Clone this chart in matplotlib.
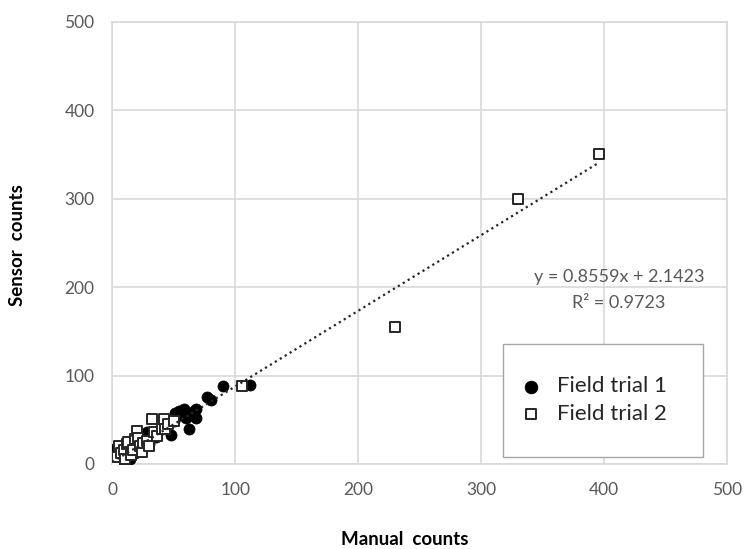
import matplotlib.pyplot as plt
from matplotlib.patches import Rectangle

plt.rcParams['font.family'] = ['Lato', 'DejaVu Sans']

# Field trial 1 (filled circles): manual vs sensor counts
trial1_manual = [0, 1, 2, 3, 5, 6, 8, 10, 12, 14, 16, 18, 22, 25, 28, 30, 35, 40,
                 42, 48, 50, 51, 52, 54, 56, 58, 60, 62, 64, 66, 68, 68, 77, 80, 90, 112]
trial1_sensor = [2, 8, 15, 18, 12, 4, 10, 20, 14, 6, 22, 12, 18, 26, 36, 22, 30, 40,
                 48, 33, 48, 58, 56, 60, 55, 62, 52, 40, 56, 60, 52, 62, 76, 72, 88, 89]

# Field trial 2 (open squares)
trial2_manual = [0, 2, 4, 5, 7, 9, 10, 12, 13, 15, 17, 18, 20, 21, 22, 24, 25, 28,
                 30, 32, 34, 36, 40, 42, 43, 45, 50, 105, 230, 330, 396]
trial2_sensor = [0, 3, 8, 20, 12, 16, 5, 22, 25, 10, 16, 28, 37, 29, 20, 14, 24, 26,
                 20, 51, 36, 32, 40, 51, 39, 45, 48, 88, 155, 300, 351]

# linear trendline reported on the chart
slope = 0.8559
intercept = 2.1423
r_squared = 0.9723

fig = plt.figure(figsize=(7.45, 5.49), dpi=100)
ax = fig.add_axes([0.151, 0.155, 0.825, 0.805])

grid_col = '#d9d9d9'
text_col = '#595959'

ax.scatter(trial1_manual, trial1_sensor, s=64, marker='o', c='black',
           edgecolors='black', linewidths=0.5, zorder=3, label='Field trial 1')
ax.scatter(trial2_manual, trial2_sensor, s=44, marker='s', c='white',
           edgecolors='#262626', linewidths=1.4, zorder=4, label='Field trial 2')

x_all = trial1_manual + trial2_manual
xs = [min(x_all), max(x_all)]
ax.plot(xs, [slope * v + intercept for v in xs], linestyle=(0, (1, 1.6)),
        color='#262626', linewidth=1.6, zorder=5)

ax.set_xlim(0, 500)
ax.set_ylim(0, 500)
ax.set_xticks([0, 100, 200, 300, 400, 500])
ax.set_yticks([0, 100, 200, 300, 400, 500])
ax.grid(True, color=grid_col, linewidth=1.2, zorder=0)
ax.set_axisbelow(True)
for sp in ax.spines.values():
    sp.set_color(grid_col)
    sp.set_linewidth(1.2)
ax.tick_params(length=0, labelsize=12.5, labelcolor=text_col)
ax.tick_params(axis='y', pad=13)
ax.tick_params(axis='x', pad=13)

ax.set_xlabel('Manual  counts', fontsize=13.5, fontweight='bold', va='center')
ax.set_ylabel('Sensor  counts', fontsize=13.5, fontweight='bold', va='center')
ax.xaxis.set_label_coords(0.476, -0.172)
ax.yaxis.set_label_coords(-0.154, 0.495)

ax.text(0.824, 0.423, f'y = {slope}x + {intercept}', transform=ax.transAxes,
        ha='center', va='center', fontsize=13, color=text_col, zorder=6)
ax.text(0.824, 0.364, f'R² = {r_squared}', transform=ax.transAxes,
        ha='center', va='center', fontsize=13, color=text_col, zorder=6)

# legend box
box = Rectangle((0.6355, 0.0158), 0.3255, 0.2557, transform=ax.transAxes,
                facecolor='white', edgecolor='#a6a6a6', linewidth=1.0, zorder=7)
ax.add_patch(box)
leg = ax.legend(loc='center left', bbox_to_anchor=(0.63, 0.144), frameon=False,
                fontsize=16, handletextpad=0.2, labelspacing=0.35,
                markerscale=1.15, borderaxespad=0)
leg.set_zorder(8)
for t in leg.get_texts():
    t.set_color('#262626')

fig.savefig('out.png', dpi=100)
